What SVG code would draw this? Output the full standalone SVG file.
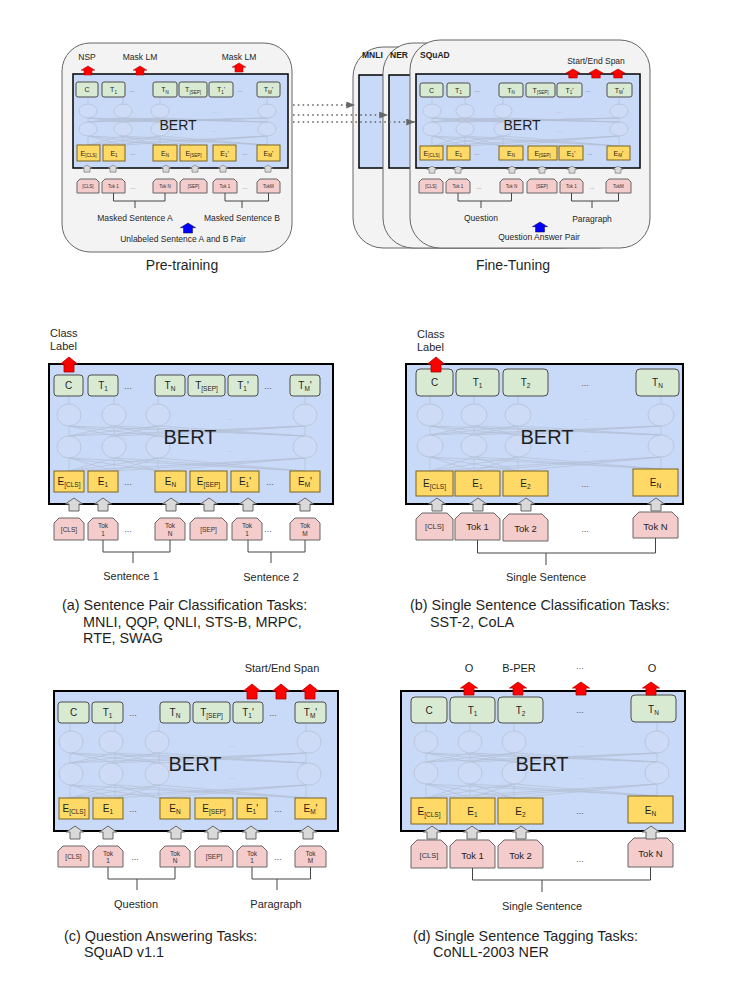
<svg xmlns="http://www.w3.org/2000/svg" width="744" height="1004" viewBox="0 0 744 1004">
<defs>
<style>
text{font-family:"Liberation Sans",Arial,sans-serif;fill:#1f1f1f}
.bert{fill:#c9daf8;stroke:#000;stroke-width:2}
.bertS{fill:#c9daf8;stroke:#000;stroke-width:1.5}
.tb{fill:#d9ead3;stroke:#4d4d4d;stroke-width:1}
.eb{fill:#ffd966;stroke:#7a6520;stroke-width:1}
.kb{fill:#f4cccc;stroke:#666;stroke-width:1}
.net{fill:none;stroke:#b3bfd4;stroke-width:0.7}
.ell{fill:#cddbf7;stroke:#b8c3d6;stroke-width:0.9}
.ga{fill:#d9d9d9;stroke:#666;stroke-width:1}
.ra{fill:#f00;stroke:#a00;stroke-width:0.8}
.ba{fill:#00f;stroke:#002;stroke-width:0.6}
.br{fill:none;stroke:#444;stroke-width:1}
.dash{fill:none;stroke:#666;stroke-width:1.6;stroke-dasharray:1.6 3.2}
.outer{fill:#f3f3f3;stroke:#666;stroke-width:1}
.lbl{font-size:10px;text-anchor:middle}
.s{font-size:6.5px}
.sl{font-size:7px;text-anchor:middle}
.ss{font-size:4.5px}
.tk{font-size:6.5px;text-anchor:middle;fill:#333}
.tk2{font-size:9.5px;text-anchor:middle}
.tkS{font-size:4.5px;text-anchor:middle;fill:#333}
.mid{font-size:11px;text-anchor:middle}
.small{font-size:8.5px;text-anchor:middle}
.cap{font-size:14.4px}
.title{font-size:14px;text-anchor:middle}
.big{font-size:20px;text-anchor:middle}
.bigS{font-size:14px;text-anchor:middle}
.dot{font-size:9px;text-anchor:middle;fill:#555}
.dotS{font-size:6px;text-anchor:middle;fill:#555}
.fd{font-size:7px;text-anchor:middle;fill:#b0bbcc}
.bold{font-size:8.5px;font-weight:bold}
</style>
<path id="arr" d="M0 0L8.5 7L5 7L5 15L-5 15L-5 7L-8.5 7Z"/>
<path id="garr" d="M0 0L8.5 6L5 6L5 13L-5 13L-5 6L-8.5 6Z"/>
<marker id="mk" viewBox="0 0 10 8" refX="10" refY="4" markerWidth="9" markerHeight="7" orient="auto" markerUnits="userSpaceOnUse"><path d="M0 0L10 4L0 8Z" fill="#666"/></marker>
</defs>
<rect width="744" height="1004" fill="#fff"/>

<!-- ============ PRE-TRAINING ============ -->
<g id="pre">
<rect class="outer" x="62" y="43" width="230" height="209" rx="28"/>
<text class="small" x="87" y="60">NSP</text>
<text class="small" x="140" y="60">Mask LM</text>
<text class="small" x="239" y="60">Mask LM</text>
<g id="pre-bert"><rect class="bertS" x="73" y="74" width="215" height="94"/>
<path class="net" d="M88 97V104M123 97V104M160 97V104M267 97V104M88 118V122M123 118V122M160 118V122M267 118V122M88 136V145M123 136V145M160 136V145M267 136V145M88 118L123 122M88 118L160 122M88 118L267 122M123 118L88 122M123 118L160 122M123 118L267 122M160 118L88 122M160 118L123 122M160 118L267 122M267 118L88 122M267 118L123 122M267 118L160 122M88 136L123 145M88 136L160 145M88 136L267 145M123 136L88 145M123 136L160 145M123 136L267 145M160 136L88 145M160 136L123 145M160 136L267 145M267 136L88 145M267 136L123 145M267 136L160 145"/>
<ellipse class="ell" cx="88" cy="111" rx="9" ry="7"/><ellipse class="ell" cx="123" cy="111" rx="9" ry="7"/><ellipse class="ell" cx="160" cy="111" rx="9" ry="7"/><ellipse class="ell" cx="267" cy="111" rx="9" ry="7"/>
<ellipse class="ell" cx="88" cy="129" rx="9" ry="7"/><ellipse class="ell" cx="123" cy="129" rx="9" ry="7"/><ellipse class="ell" cx="160" cy="129" rx="9" ry="7"/><ellipse class="ell" cx="267" cy="129" rx="9" ry="7"/>
<text class="fd" x="214" y="113">...</text><text class="fd" x="214" y="132">...</text>
<text class="bigS" x="178" y="130">BERT</text></g>
<g id="pre-C"><rect class="tb" x="76" y="82" width="22" height="15" rx="2"/><text class="sl" x="87" y="92">C</text></g>
<g id="pre-T1"><rect class="tb" x="102" y="82" width="23" height="15" rx="2"/><text class="sl" x="113.5" y="92">T<tspan class="ss" dy="1.5">1</tspan></text></g>
<g id="pre-TN"><rect class="tb" x="153" y="82" width="24" height="15" rx="2"/><text class="sl" x="165" y="92">T<tspan class="ss" dy="1.5">N</tspan></text></g>
<g id="pre-TSEP"><rect class="tb" x="179" y="82" width="28" height="15" rx="2"/><text class="sl" x="193" y="92">T<tspan class="ss" dy="1.5">[SEP]</tspan></text></g>
<g id="pre-T1p"><rect class="tb" x="209" y="82" width="24" height="15" rx="2"/><text class="sl" x="221" y="92">T<tspan class="ss" dy="1.5">1</tspan><tspan dy="-1.5">'</tspan></text></g>
<g id="pre-TMp"><rect class="tb" x="257" y="82" width="23" height="15" rx="2"/><text class="sl" x="268.5" y="92">T<tspan class="ss" dy="1.5">M</tspan><tspan dy="-1.5">'</tspan></text></g>
<text class="dotS" x="132" y="92">...</text><text class="dotS" x="240" y="92">...</text>
<g id="pre-ECLS"><rect class="eb" x="77" y="145" width="23" height="16"/><text class="sl" x="88.5" y="155.5">E<tspan class="ss" dy="1.5">[CLS]</tspan></text></g>
<g id="pre-E1"><rect class="eb" x="103" y="145" width="22" height="16"/><text class="sl" x="114" y="155.5">E<tspan class="ss" dy="1.5">1</tspan></text></g>
<g id="pre-EN"><rect class="eb" x="153" y="145" width="24" height="16"/><text class="sl" x="165" y="155.5">E<tspan class="ss" dy="1.5">N</tspan></text></g>
<g id="pre-ESEP"><rect class="eb" x="180" y="145" width="27" height="16"/><text class="sl" x="193.5" y="155.5">E<tspan class="ss" dy="1.5">[SEP]</tspan></text></g>
<g id="pre-E1p"><rect class="eb" x="213" y="145" width="23" height="16"/><text class="sl" x="224.5" y="155.5">E<tspan class="ss" dy="1.5">1</tspan><tspan dy="-1.5">'</tspan></text></g>
<g id="pre-EMp"><rect class="eb" x="257" y="145" width="23" height="16"/><text class="sl" x="268.5" y="155.5">E<tspan class="ss" dy="1.5">M</tspan><tspan dy="-1.5">'</tspan></text></g>
<text class="dotS" x="133" y="155">...</text><text class="dotS" x="245" y="155">...</text>
<g id="pre-KCLS"><path class="kb" d="M77 193V182L80 179H96L99 182V193Z"/><text class="tkS" x="88" y="187.5">[CLS]</text></g>
<g id="pre-K1"><path class="kb" d="M102 193V182L105 179H122L125 182V193Z"/><text class="tkS" x="113.5" y="187.5">Tok 1</text></g>
<g id="pre-KN"><path class="kb" d="M153 193V182L156 179H174L177 182V193Z"/><text class="tkS" x="165" y="187.5">Tok N</text></g>
<g id="pre-KSEP"><path class="kb" d="M180 193V182L183 179H204L207 182V193Z"/><text class="tkS" x="193.5" y="187.5">[SEP]</text></g>
<g id="pre-K1p"><path class="kb" d="M213 193V182L216 179H234L237 182V193Z"/><text class="tkS" x="225" y="187.5">Tok 1</text></g>
<g id="pre-KM"><path class="kb" d="M257 193V182L260 179H277L280 182V193Z"/><text class="tkS" x="268.5" y="187.5">TokM</text></g>
<text class="dotS" x="133" y="189">...</text><text class="dotS" x="245" y="189">...</text>
<text class="small" x="135" y="221">Masked Sentence A</text>
<text class="small" x="242" y="221">Masked Sentence B</text>
<text class="small" x="183" y="242">Unlabeled Sentence A and B Pair</text>
<text class="title" x="182" y="270">Pre-training</text>
</g>

<!-- ============ FINE-TUNING ============ -->
<g id="ft-mnli">
<rect class="outer" x="353" y="47" width="240" height="201" rx="30"/>
<rect class="bertS" x="359" y="75" width="200" height="93"/>
<text class="bold" x="362" y="58">MNLI</text>
</g>
<g id="ft-ner">
<rect class="outer" x="383" y="43" width="245" height="205" rx="30"/>
<rect class="bertS" x="389" y="75" width="200" height="93"/>
<text class="bold" x="390" y="58">NER</text>
</g>
<g id="ft-squad">
<rect class="outer" x="410" y="40" width="240" height="208" rx="30"/>
<text class="bold" x="420" y="58">SQuAD</text>
<text class="small" x="596" y="64">Start/End Span</text>
<g id="ft-bert"><rect class="bertS" x="416" y="74" width="224" height="94"/>
<path class="net" d="M432 97V104M465 97V104M503 97V104M619 97V104M432 118V122M465 118V122M503 118V122M619 118V122M432 136V146M465 136V146M503 136V146M619 136V146M432 118L465 122M432 118L503 122M432 118L619 122M465 118L432 122M465 118L503 122M465 118L619 122M503 118L432 122M503 118L465 122M503 118L619 122M619 118L432 122M619 118L465 122M619 118L503 122M432 136L465 146M432 136L503 146M432 136L619 146M465 136L432 146M465 136L503 146M465 136L619 146M503 136L432 146M503 136L465 146M503 136L619 146M619 136L432 146M619 136L465 146M619 136L503 146"/>
<ellipse class="ell" cx="432" cy="111" rx="9" ry="7"/><ellipse class="ell" cx="465" cy="111" rx="9" ry="7"/><ellipse class="ell" cx="503" cy="111" rx="9" ry="7"/><ellipse class="ell" cx="619" cy="111" rx="9" ry="7"/>
<ellipse class="ell" cx="432" cy="129" rx="9" ry="7"/><ellipse class="ell" cx="465" cy="129" rx="9" ry="7"/><ellipse class="ell" cx="503" cy="129" rx="9" ry="7"/><ellipse class="ell" cx="619" cy="129" rx="9" ry="7"/>
<text class="fd" x="559" y="113">...</text><text class="fd" x="559" y="132">...</text>
<text class="bigS" x="522" y="130">BERT</text></g>
<g id="ft-C"><rect class="tb" x="420" y="83" width="23" height="14" rx="2"/><text class="sl" x="431.5" y="92.5">C</text></g>
<g id="ft-T1"><rect class="tb" x="447" y="83" width="23" height="14" rx="2"/><text class="sl" x="458.5" y="92.5">T<tspan class="ss" dy="1.5">1</tspan></text></g>
<g id="ft-TN"><rect class="tb" x="499" y="83" width="24" height="14" rx="2"/><text class="sl" x="511" y="92.5">T<tspan class="ss" dy="1.5">N</tspan></text></g>
<g id="ft-TSEP"><rect class="tb" x="526" y="83" width="29" height="14" rx="2"/><text class="sl" x="540.5" y="92.5">T<tspan class="ss" dy="1.5">[SEP]</tspan></text></g>
<g id="ft-T1p"><rect class="tb" x="557" y="83" width="25" height="14" rx="2"/><text class="sl" x="569.5" y="92.5">T<tspan class="ss" dy="1.5">1</tspan><tspan dy="-1.5">'</tspan></text></g>
<g id="ft-TMp"><rect class="tb" x="607" y="83" width="25" height="14" rx="2"/><text class="sl" x="619.5" y="92.5">T<tspan class="ss" dy="1.5">M</tspan><tspan dy="-1.5">'</tspan></text></g>
<text class="dotS" x="477" y="92">...</text><text class="dotS" x="588" y="92">...</text>
<g id="ft-ECLS"><rect class="eb" x="420" y="146" width="23" height="14"/><text class="sl" x="431.5" y="155.5">E<tspan class="ss" dy="1.5">[CLS]</tspan></text></g>
<g id="ft-E1"><rect class="eb" x="447" y="146" width="23" height="14"/><text class="sl" x="458.5" y="155.5">E<tspan class="ss" dy="1.5">1</tspan></text></g>
<g id="ft-EN"><rect class="eb" x="499" y="146" width="24" height="14"/><text class="sl" x="511" y="155.5">E<tspan class="ss" dy="1.5">N</tspan></text></g>
<g id="ft-ESEP"><rect class="eb" x="528" y="146" width="29" height="14"/><text class="sl" x="542.5" y="155.5">E<tspan class="ss" dy="1.5">[SEP]</tspan></text></g>
<g id="ft-E1p"><rect class="eb" x="559" y="146" width="24" height="14"/><text class="sl" x="571" y="155.5">E<tspan class="ss" dy="1.5">1</tspan><tspan dy="-1.5">'</tspan></text></g>
<g id="ft-EMp"><rect class="eb" x="607" y="146" width="23" height="14"/><text class="sl" x="618.5" y="155.5">E<tspan class="ss" dy="1.5">M</tspan><tspan dy="-1.5">'</tspan></text></g>
<text class="dotS" x="477" y="155">...</text><text class="dotS" x="590" y="155">...</text>
<g id="ft-KCLS"><path class="kb" d="M419 193V182L422 179H440L443 182V193Z"/><text class="tkS" x="431" y="187.5">[CLS]</text></g>
<g id="ft-K1"><path class="kb" d="M446 193V182L449 179H467L470 182V193Z"/><text class="tkS" x="458" y="187.5">Tok 1</text></g>
<g id="ft-KN"><path class="kb" d="M500 193V182L503 179H520L523 182V193Z"/><text class="tkS" x="511.5" y="187.5">Tok N</text></g>
<g id="ft-KSEP"><path class="kb" d="M527 193V182L530 179H554L557 182V193Z"/><text class="tkS" x="542" y="187.5">[SEP]</text></g>
<g id="ft-K1p"><path class="kb" d="M560 193V182L563 179H580L583 182V193Z"/><text class="tkS" x="571.5" y="187.5">Tok 1</text></g>
<g id="ft-KM"><path class="kb" d="M606 193V182L609 179H628L631 182V193Z"/><text class="tkS" x="618.5" y="187.5">TokM</text></g>
<text class="dotS" x="479" y="189">...</text><text class="dotS" x="592" y="189">...</text>
<text class="small" x="481" y="221">Question</text>
<text class="small" x="592" y="222">Paragraph</text>
<text class="small" x="539" y="240">Question Answer Pair</text>
</g>
<text class="title" x="513" y="270">Fine-Tuning</text>

<!-- ============ PANEL A ============ -->
<g id="a">
<text class="mid" x="50" y="337" style="text-anchor:start">Class</text>
<text class="mid" x="50" y="350" style="text-anchor:start">Label</text>
<g id="a-bert"><rect class="bert" x="49" y="364" width="284" height="140"/>
<path class="net" d="M69 396V404M114 396V404M158 396V404M305 396V404M69 426V436M114 426V436M158 426V436M305 426V436M69 458V471M114 458V471M158 458V471M305 458V471M69 426L114 436M69 426L158 436M69 426L305 436M114 426L69 436M114 426L158 436M114 426L305 436M158 426L69 436M158 426L114 436M158 426L305 436M305 426L69 436M305 426L114 436M305 426L158 436M69 458L114 471M69 458L158 471M69 458L305 471M114 458L69 471M114 458L158 471M114 458L305 471M158 458L69 471M158 458L114 471M158 458L305 471M305 458L69 471M305 458L114 471M305 458L158 471"/>
<ellipse class="ell" cx="69" cy="415" rx="12" ry="11"/><ellipse class="ell" cx="114" cy="415" rx="12" ry="11"/><ellipse class="ell" cx="158" cy="415" rx="12" ry="11"/><ellipse class="ell" cx="305" cy="415" rx="12" ry="11"/>
<ellipse class="ell" cx="69" cy="447" rx="12" ry="11"/><ellipse class="ell" cx="114" cy="447" rx="12" ry="11"/><ellipse class="ell" cx="158" cy="447" rx="12" ry="11"/><ellipse class="ell" cx="305" cy="447" rx="12" ry="11"/>
<text class="fd" x="230" y="420">...</text><text class="fd" x="230" y="452">...</text>
<text class="big" x="190" y="444">BERT</text></g>
<g id="a-C"><rect class="tb" x="54" y="375" width="29" height="21" rx="3"/><text class="lbl" x="68.5" y="389">C</text></g>
<g id="a-T1"><rect class="tb" x="88" y="375" width="30" height="21" rx="3"/><text class="lbl" x="103" y="389">T<tspan class="s" dy="2">1</tspan></text></g>
<g id="a-TN"><rect class="tb" x="155" y="375" width="30" height="21" rx="3"/><text class="lbl" x="170" y="389">T<tspan class="s" dy="2">N</tspan></text></g>
<g id="a-TSEP"><rect class="tb" x="188" y="375" width="37" height="21" rx="3"/><text class="lbl" x="206.5" y="389">T<tspan class="s" dy="2">[SEP]</tspan></text></g>
<g id="a-T1p"><rect class="tb" x="228" y="375" width="30" height="21" rx="3"/><text class="lbl" x="243" y="389">T<tspan class="s" dy="2">1</tspan><tspan dy="-2">'</tspan></text></g>
<g id="a-TMp"><rect class="tb" x="290" y="375" width="30" height="21" rx="3"/><text class="lbl" x="305" y="389">T<tspan class="s" dy="2">M</tspan><tspan dy="-2">'</tspan></text></g>
<text class="dot" x="128" y="389">...</text><text class="dot" x="268" y="389">...</text>
<g id="a-ECLS"><rect class="eb" x="54" y="471" width="30" height="21"/><text class="lbl" x="69" y="485">E<tspan class="s" dy="2">[CLS]</tspan></text></g>
<g id="a-E1"><rect class="eb" x="88" y="471" width="30" height="21"/><text class="lbl" x="103" y="485">E<tspan class="s" dy="2">1</tspan></text></g>
<g id="a-EN"><rect class="eb" x="155" y="471" width="31" height="21"/><text class="lbl" x="170.5" y="485">E<tspan class="s" dy="2">N</tspan></text></g>
<g id="a-ESEP"><rect class="eb" x="190" y="471" width="37" height="21"/><text class="lbl" x="208.5" y="485">E<tspan class="s" dy="2">[SEP]</tspan></text></g>
<g id="a-E1p"><rect class="eb" x="231" y="471" width="28" height="21"/><text class="lbl" x="245" y="485">E<tspan class="s" dy="2">1</tspan><tspan dy="-2">'</tspan></text></g>
<g id="a-EMp"><rect class="eb" x="290" y="471" width="30" height="21"/><text class="lbl" x="305" y="485">E<tspan class="s" dy="2">M</tspan><tspan dy="-2">'</tspan></text></g>
<text class="dot" x="128" y="485">...</text><text class="dot" x="270" y="485">...</text>
<g id="a-KCLS"><path class="kb" d="M54 540V523L59 518H79L84 523V540Z"/><text class="tk" x="69" y="532">[CLS]</text></g>
<g id="a-K1"><path class="kb" d="M88 540V523L93 518H113L118 523V540Z"/><text class="tk" x="103" y="528">Tok</text><text class="tk" x="103" y="535.5">1</text></g>
<g id="a-KN"><path class="kb" d="M155 540V523L160 518H180L185 523V540Z"/><text class="tk" x="170" y="528">Tok</text><text class="tk" x="170" y="535.5">N</text></g>
<g id="a-KSEP"><path class="kb" d="M190 540V523L195 518H222L227 523V540Z"/><text class="tk" x="208.5" y="532">[SEP]</text></g>
<g id="a-K1p"><path class="kb" d="M232 540V523L237 518H257L262 523V540Z"/><text class="tk" x="247" y="528">Tok</text><text class="tk" x="247" y="535.5">1</text></g>
<g id="a-KM"><path class="kb" d="M290 540V523L295 518H315L320 523V540Z"/><text class="tk" x="305" y="528">Tok</text><text class="tk" x="305" y="535.5">M</text></g>
<text class="dot" x="128" y="532">...</text><text class="dot" x="268" y="532">...</text>
<text class="mid" x="131" y="580">Sentence 1</text>
<text class="mid" x="271" y="581">Sentence 2</text>
<text class="cap" x="62" y="610">(a) Sentence Pair Classification Tasks:</text>
<text class="cap" x="83" y="627">MNLI, QQP, QNLI, STS-B, MRPC,</text>
<text class="cap" x="83" y="643">RTE, SWAG</text>
</g>

<!-- ============ PANEL B ============ -->
<g id="b">
<text class="mid" x="417" y="338" style="text-anchor:start">Class</text>
<text class="mid" x="417" y="351" style="text-anchor:start">Label</text>
<g id="b-bert"><rect class="bert" x="406" y="364" width="277" height="140"/>
<path class="net" d="M430 396V404M474 396V404M518 396V404M661 396V404M430 426V435M474 426V435M518 426V435M661 426V435M430 457V471M474 457V471M518 457V471M661 457V469M430 426L474 435M430 426L518 435M430 426L661 435M474 426L430 435M474 426L518 435M474 426L661 435M518 426L430 435M518 426L474 435M518 426L661 435M661 426L430 435M661 426L474 435M661 426L518 435M430 457L474 471M430 457L518 471M430 457L661 469M474 457L430 471M474 457L518 471M474 457L661 469M518 457L430 471M518 457L474 471M518 457L661 469M661 457L430 471M661 457L474 471M661 457L518 471"/>
<ellipse class="ell" cx="430" cy="415" rx="13" ry="11"/><ellipse class="ell" cx="474" cy="415" rx="13" ry="11"/><ellipse class="ell" cx="518" cy="415" rx="13" ry="11"/><ellipse class="ell" cx="661" cy="415" rx="13" ry="11"/>
<ellipse class="ell" cx="430" cy="446" rx="13" ry="11"/><ellipse class="ell" cx="474" cy="446" rx="13" ry="11"/><ellipse class="ell" cx="518" cy="446" rx="13" ry="11"/><ellipse class="ell" cx="661" cy="446" rx="13" ry="11"/>
<text class="fd" x="587" y="420">...</text><text class="fd" x="587" y="452">...</text>
<text class="big" x="547" y="444">BERT</text></g>
<g id="b-C"><rect class="tb" x="416" y="369" width="37" height="27" rx="4"/><text class="lbl" x="434.5" y="386">C</text></g>
<g id="b-T1"><rect class="tb" x="456" y="369" width="43" height="27" rx="4"/><text class="lbl" x="477.5" y="386">T<tspan class="s" dy="2">1</tspan></text></g>
<g id="b-T2"><rect class="tb" x="503" y="369" width="45" height="27" rx="4"/><text class="lbl" x="525.5" y="386">T<tspan class="s" dy="2">2</tspan></text></g>
<g id="b-TN"><rect class="tb" x="636" y="369" width="43" height="27" rx="4"/><text class="lbl" x="657.5" y="386">T<tspan class="s" dy="2">N</tspan></text></g>
<text class="dot" x="585" y="386">...</text>
<g id="b-ECLS"><rect class="eb" x="416" y="471" width="37" height="25"/><text class="lbl" x="434.5" y="487">E<tspan class="s" dy="2">[CLS]</tspan></text></g>
<g id="b-E1"><rect class="eb" x="455" y="471" width="45" height="25"/><text class="lbl" x="477.5" y="487">E<tspan class="s" dy="2">1</tspan></text></g>
<g id="b-E2"><rect class="eb" x="503" y="471" width="45" height="25"/><text class="lbl" x="525.5" y="487">E<tspan class="s" dy="2">2</tspan></text></g>
<g id="b-EN"><rect class="eb" x="633" y="469" width="45" height="27"/><text class="lbl" x="655.5" y="486">E<tspan class="s" dy="2">N</tspan></text></g>
<text class="dot" x="585" y="487">...</text>
<g id="b-KCLS"><path class="kb" d="M416 540V519L422 513H447L453 519V540Z"/><text class="tk" style="font-size:7.5px" x="434.5" y="529">[CLS]</text></g>
<g id="b-K1"><path class="kb" d="M455 540V519L461 513H494L500 519V540Z"/><text class="tk2" x="477.5" y="530">Tok 1</text></g>
<g id="b-K2"><path class="kb" d="M503 541V520L509 514H542L548 520V541Z"/><text class="tk2" x="525.5" y="532">Tok 2</text></g>
<g id="b-KN"><path class="kb" d="M633 538V518L639 512H672L678 518V538Z"/><text class="tk2" x="655.5" y="530">Tok N</text></g>
<text class="dot" x="585" y="532">...</text>
<text class="mid" x="546" y="581">Single Sentence</text>
<text class="cap" x="410" y="610">(b) Single Sentence Classification Tasks:</text>
<text class="cap" x="430" y="627">SST-2, CoLA</text>
</g>

<!-- ============ PANEL C ============ -->
<g id="c">
<text class="mid" x="282" y="672">Start/End Span</text>
<g id="c-bert"><rect class="bert" x="54" y="691" width="284" height="140"/>
<g transform="translate(1 327)">
<path class="net" d="M69 396V404M114 396V404M158 396V404M305 396V404M69 426V436M114 426V436M158 426V436M305 426V436M69 458V471M114 458V471M158 458V471M305 458V471M69 426L114 436M69 426L158 436M69 426L305 436M114 426L69 436M114 426L158 436M114 426L305 436M158 426L69 436M158 426L114 436M158 426L305 436M305 426L69 436M305 426L114 436M305 426L158 436M69 458L114 471M69 458L158 471M69 458L305 471M114 458L69 471M114 458L158 471M114 458L305 471M158 458L69 471M158 458L114 471M158 458L305 471M305 458L69 471M305 458L114 471M305 458L158 471"/>
<ellipse class="ell" cx="70" cy="415" rx="12" ry="11"/><ellipse class="ell" cx="110" cy="415" rx="12" ry="11"/><ellipse class="ell" cx="156" cy="415" rx="12" ry="11"/><ellipse class="ell" cx="308" cy="415" rx="12" ry="11"/>
<ellipse class="ell" cx="70" cy="447" rx="12" ry="11"/><ellipse class="ell" cx="110" cy="447" rx="12" ry="11"/><ellipse class="ell" cx="156" cy="447" rx="12" ry="11"/><ellipse class="ell" cx="308" cy="447" rx="12" ry="11"/>
<text class="fd" x="231" y="420">...</text><text class="fd" x="231" y="452">...</text>
</g>
<text class="big" x="195" y="771">BERT</text></g>
<g id="c-C"><rect class="tb" x="58" y="702" width="31" height="21" rx="3"/><text class="lbl" x="73.5" y="716">C</text></g>
<g id="c-T1"><rect class="tb" x="92" y="702" width="31" height="21" rx="3"/><text class="lbl" x="107.5" y="716">T<tspan class="s" dy="2">1</tspan></text></g>
<g id="c-TN"><rect class="tb" x="160" y="702" width="30" height="21" rx="3"/><text class="lbl" x="175" y="716">T<tspan class="s" dy="2">N</tspan></text></g>
<g id="c-TSEP"><rect class="tb" x="193" y="702" width="37" height="21" rx="3"/><text class="lbl" x="211.5" y="716">T<tspan class="s" dy="2">[SEP]</tspan></text></g>
<g id="c-T1p"><rect class="tb" x="233" y="702" width="30" height="21" rx="3"/><text class="lbl" x="248" y="716">T<tspan class="s" dy="2">1</tspan><tspan dy="-2">'</tspan></text></g>
<g id="c-TMp"><rect class="tb" x="295" y="702" width="31" height="21" rx="3"/><text class="lbl" x="310.5" y="716">T<tspan class="s" dy="2">M</tspan><tspan dy="-2">'</tspan></text></g>
<text class="dot" x="133" y="716">...</text><text class="dot" x="273" y="716">...</text>
<g id="c-ECLS"><rect class="eb" x="59" y="798" width="30" height="21"/><text class="lbl" x="74" y="812">E<tspan class="s" dy="2">[CLS]</tspan></text></g>
<g id="c-E1"><rect class="eb" x="93" y="798" width="30" height="21"/><text class="lbl" x="108" y="812">E<tspan class="s" dy="2">1</tspan></text></g>
<g id="c-EN"><rect class="eb" x="160" y="798" width="30" height="21"/><text class="lbl" x="175" y="812">E<tspan class="s" dy="2">N</tspan></text></g>
<g id="c-ESEP"><rect class="eb" x="195" y="798" width="38" height="21"/><text class="lbl" x="214" y="812">E<tspan class="s" dy="2">[SEP]</tspan></text></g>
<g id="c-E1p"><rect class="eb" x="237" y="798" width="30" height="21"/><text class="lbl" x="252" y="812">E<tspan class="s" dy="2">1</tspan><tspan dy="-2">'</tspan></text></g>
<g id="c-EMp"><rect class="eb" x="295" y="798" width="31" height="21"/><text class="lbl" x="310.5" y="812">E<tspan class="s" dy="2">M</tspan><tspan dy="-2">'</tspan></text></g>
<text class="dot" x="133" y="812">...</text><text class="dot" x="278" y="812">...</text>
<g id="c-KCLS"><path class="kb" d="M58 867V851L63 846H84L89 851V867Z"/><text class="tk" x="73.5" y="859">[CLS]</text></g>
<g id="c-K1"><path class="kb" d="M93 867V851L98 846H118L123 851V867Z"/><text class="tk" x="108" y="855.5">Tok</text><text class="tk" x="108" y="863">1</text></g>
<g id="c-KN"><path class="kb" d="M160 867V851L165 846H185L190 851V867Z"/><text class="tk" x="175" y="855.5">Tok</text><text class="tk" x="175" y="863">N</text></g>
<g id="c-KSEP"><path class="kb" d="M195 867V851L200 846H228L233 851V867Z"/><text class="tk" x="214" y="859">[SEP]</text></g>
<g id="c-K1p"><path class="kb" d="M237 867V851L242 846H262L267 851V867Z"/><text class="tk" x="252" y="855.5">Tok</text><text class="tk" x="252" y="863">1</text></g>
<g id="c-KM"><path class="kb" d="M295 867V851L300 846H321L326 851V867Z"/><text class="tk" x="310.5" y="855.5">Tok</text><text class="tk" x="310.5" y="863">M</text></g>
<text class="dot" x="135" y="860">...</text><text class="dot" x="278" y="860">...</text>
<text class="mid" x="136" y="908">Question</text>
<text class="mid" x="276" y="908">Paragraph</text>
<text class="cap" x="64" y="941">(c) Question Answering Tasks:</text>
<text class="cap" x="84" y="957">SQuAD v1.1</text>
</g>

<!-- ============ PANEL D ============ -->
<g id="d">
<text class="mid" x="469" y="672">O</text>
<text class="mid" x="519" y="672">B-PER</text>
<text class="dot" x="580" y="669">...</text>
<text class="mid" x="652" y="672">O</text>
<g id="d-bert"><rect class="bert" x="401" y="691" width="284" height="140"/>
<g transform="translate(-4 327)">
<path class="net" d="M430 396V404M474 396V404M518 396V404M661 396V404M430 426V435M474 426V435M518 426V435M661 426V435M430 457V471M474 457V471M518 457V471M661 457V469M430 426L474 435M430 426L518 435M430 426L661 435M474 426L430 435M474 426L518 435M474 426L661 435M518 426L430 435M518 426L474 435M518 426L661 435M661 426L430 435M661 426L474 435M661 426L518 435M430 457L474 471M430 457L518 471M430 457L661 469M474 457L430 471M474 457L518 471M474 457L661 469M518 457L430 471M518 457L474 471M518 457L661 469M661 457L430 471M661 457L474 471M661 457L518 471"/>
<ellipse class="ell" cx="430" cy="415" rx="12" ry="11"/><ellipse class="ell" cx="474" cy="415" rx="12" ry="11"/><ellipse class="ell" cx="518" cy="415" rx="12" ry="11"/><ellipse class="ell" cx="661" cy="415" rx="12" ry="11"/>
<ellipse class="ell" cx="430" cy="446" rx="12" ry="11"/><ellipse class="ell" cx="474" cy="446" rx="12" ry="11"/><ellipse class="ell" cx="518" cy="446" rx="12" ry="11"/><ellipse class="ell" cx="661" cy="446" rx="12" ry="11"/>
<text class="fd" x="585" y="420">...</text><text class="fd" x="585" y="452">...</text>
</g>
<text class="big" x="542" y="771">BERT</text></g>
<g id="d-C"><rect class="tb" x="411" y="697" width="36" height="26" rx="4"/><text class="lbl" x="429" y="714">C</text></g>
<g id="d-T1"><rect class="tb" x="450" y="697" width="45" height="26" rx="4"/><text class="lbl" x="472.5" y="714">T<tspan class="s" dy="2">1</tspan></text></g>
<g id="d-T2"><rect class="tb" x="498" y="697" width="45" height="26" rx="4"/><text class="lbl" x="520.5" y="714">T<tspan class="s" dy="2">2</tspan></text></g>
<g id="d-TN"><rect class="tb" x="631" y="695" width="45" height="27" rx="4"/><text class="lbl" x="653.5" y="713">T<tspan class="s" dy="2">N</tspan></text></g>
<text class="dot" x="580" y="713">...</text>
<g id="d-ECLS"><rect class="eb" x="411" y="798" width="36" height="26"/><text class="lbl" x="429" y="815">E<tspan class="s" dy="2">[CLS]</tspan></text></g>
<g id="d-E1"><rect class="eb" x="450" y="798" width="45" height="26"/><text class="lbl" x="472.5" y="815">E<tspan class="s" dy="2">1</tspan></text></g>
<g id="d-E2"><rect class="eb" x="498" y="798" width="45" height="26"/><text class="lbl" x="520.5" y="815">E<tspan class="s" dy="2">2</tspan></text></g>
<g id="d-EN"><rect class="eb" x="628" y="796" width="45" height="27"/><text class="lbl" x="650.5" y="814">E<tspan class="s" dy="2">N</tspan></text></g>
<text class="dot" x="580" y="814">...</text>
<g id="d-KCLS"><path class="kb" d="M411 868V846L417 840H441L447 846V868Z"/><text class="tk" style="font-size:7.5px" x="429" y="858">[CLS]</text></g>
<g id="d-K1"><path class="kb" d="M450 868V846L456 840H489L495 846V868Z"/><text class="tk2" x="472.5" y="859">Tok 1</text></g>
<g id="d-K2"><path class="kb" d="M498 868V846L504 840H537L543 846V868Z"/><text class="tk2" x="520.5" y="859">Tok 2</text></g>
<g id="d-KN"><path class="kb" d="M628 867V844L634 838H667L673 844V867Z"/><text class="tk2" x="650.5" y="857">Tok N</text></g>
<text class="dot" x="580" y="862">...</text>
<text class="mid" x="542" y="910">Single Sentence</text>
<text class="cap" x="413" y="941">(d) Single Sentence Tagging Tasks:</text>
<text class="cap" x="433" y="957">CoNLL-2003 NER</text>
</g>

<!-- ============ CONNECTORS ============ -->
<g id="connectors">
<path class="dash" d="M293 105H355" marker-end="url(#mk)"/>
<path class="dash" d="M293 115H388" marker-end="url(#mk)"/>
<path class="dash" d="M293 122H415" marker-end="url(#mk)"/>
<use href="#arr" class="ra" transform="translate(88 66) scale(0.8 0.6)"/>
<use href="#arr" class="ra" transform="translate(140 66) scale(0.8 0.6)"/>
<use href="#arr" class="ra" transform="translate(239 63) scale(0.8 0.6)"/>
<use href="#garr" class="ga" transform="translate(87 165) scale(0.6 0.55)"/>
<use href="#garr" class="ga" transform="translate(113 165) scale(0.6 0.55)"/>
<use href="#garr" class="ga" transform="translate(166 165) scale(0.6 0.55)"/>
<use href="#garr" class="ga" transform="translate(195 165) scale(0.6 0.55)"/>
<use href="#garr" class="ga" transform="translate(223 165) scale(0.6 0.55)"/>
<use href="#garr" class="ga" transform="translate(268 165) scale(0.6 0.55)"/>
<path class="br" d="M113.5 193V201H165V193M135 201V208M225 193V201H268.5V193M242 201V208"/>
<use href="#arr" class="ba" transform="translate(188 223) scale(0.9 0.67)"/>
<use href="#arr" class="ra" transform="translate(573 69) scale(0.85 0.6)"/>
<use href="#arr" class="ra" transform="translate(596 69) scale(0.85 0.6)"/>
<use href="#arr" class="ra" transform="translate(618 69) scale(0.85 0.6)"/>
<use href="#garr" class="ga" transform="translate(432 166) scale(0.6 0.55)"/>
<use href="#garr" class="ga" transform="translate(458 166) scale(0.6 0.55)"/>
<use href="#garr" class="ga" transform="translate(512 166) scale(0.6 0.55)"/>
<use href="#garr" class="ga" transform="translate(542 166) scale(0.6 0.55)"/>
<use href="#garr" class="ga" transform="translate(572 166) scale(0.6 0.55)"/>
<use href="#garr" class="ga" transform="translate(618 166) scale(0.6 0.55)"/>
<path class="br" d="M458 193V201H511.5V193M481 201V208M571.5 193V201H618.5V193M592 201V208"/>
<use href="#arr" class="ba" transform="translate(540 222) scale(0.9 0.67)"/>
<use href="#arr" class="ra" x="69" y="357"/>
<use href="#garr" class="ga" x="74" y="498"/>
<use href="#garr" class="ga" x="103" y="498"/>
<use href="#garr" class="ga" x="171" y="498"/>
<use href="#garr" class="ga" x="209" y="498"/>
<use href="#garr" class="ga" x="248" y="498"/>
<use href="#garr" class="ga" x="305" y="498"/>
<path class="br" d="M103 540V552H170V540M133 552V563M248 540V552H305V540M271 552V563"/>
<use href="#arr" class="ra" x="436" y="357"/>
<use href="#garr" class="ga" x="437" y="498"/>
<use href="#garr" class="ga" x="478" y="498"/>
<use href="#garr" class="ga" x="526" y="498"/>
<use href="#garr" class="ga" x="656" y="498"/>
<path class="br" d="M477.5 540V553H655.5V538M546 553V565"/>
<use href="#arr" class="ra" x="252" y="684"/>
<use href="#arr" class="ra" x="281" y="684"/>
<use href="#arr" class="ra" x="310" y="684"/>
<use href="#garr" class="ga" x="75" y="826"/>
<use href="#garr" class="ga" x="108" y="826"/>
<use href="#garr" class="ga" x="176" y="826"/>
<use href="#garr" class="ga" x="213" y="826"/>
<use href="#garr" class="ga" x="251" y="826"/>
<use href="#garr" class="ga" x="308" y="826"/>
<path class="br" d="M108 867V879H175V867M137 879V890M252 867V879H310.5V867M277 879V890"/>
<use href="#arr" class="ra" transform="translate(469 682) scale(1 0.87)"/>
<use href="#arr" class="ra" transform="translate(518 682) scale(1 0.87)"/>
<use href="#arr" class="ra" transform="translate(581 682) scale(1 0.87)"/>
<use href="#arr" class="ra" transform="translate(651 682) scale(1 0.87)"/>
<use href="#garr" class="ga" x="432" y="826"/>
<use href="#garr" class="ga" x="472" y="826"/>
<use href="#garr" class="ga" x="521" y="826"/>
<use href="#garr" class="ga" x="651" y="826"/>
<path class="br" d="M472.5 868V880H650.5V867M542 880V892"/>
</g>
</svg>
